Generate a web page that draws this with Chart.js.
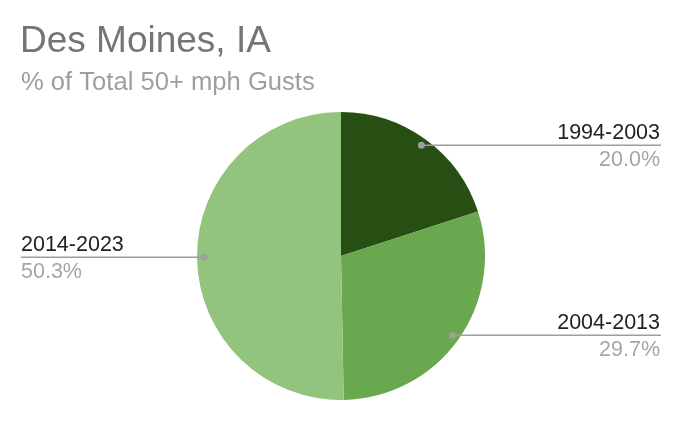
<!DOCTYPE html>
<html>
<head>
<meta charset="utf-8">
<script src="https://cdn.jsdelivr.net/npm/chart.js@4"></script>
<style>
  html, body { margin: 0; padding: 0; background: #fff; }
  #wrap { width: 682px; height: 422px; }
</style>
</head>
<body>
<div id="wrap"><canvas id="pie"></canvas></div>
<script>
// decades and their share of 50+ mph gusts
const labels = ['1994-2003', '2004-2013', '2014-2023'];
const shares = [20.0, 29.7, 50.3];
const sliceColors = ['#274e13', '#6aa84f', '#93c47d'];

const titleText = 'Des Moines, IA';
const subtitleText = '% of Total 50+ mph Gusts';
const FONT = '"Liberation Sans", Arial, sans-serif';

// titles + leader-line labels drawn on the canvas
const labelPlugin = {
  id: 'leaderLabels',
  afterDraw(chart) {
    const ctx = chart.ctx;
    ctx.save();
    ctx.textBaseline = 'alphabetic';
    ctx.textAlign = 'left';
    ctx.fillStyle = '#757575';
    ctx.font = '37px ' + FONT;
    ctx.fillText(titleText, 20, 52);
    ctx.fillStyle = '#9e9e9e';
    ctx.font = '25.6px ' + FONT;
    ctx.fillText(subtitleText, 21, 90);

    const arcs = chart.getDatasetMeta(0).data;
    arcs.forEach((arc, i) => {
      const p = arc.getProps(['x', 'y', 'startAngle', 'endAngle', 'outerRadius'], true);
      const mid = (p.startAngle + p.endAngle) / 2;
      const dx = p.x + Math.cos(mid) * p.outerRadius * 0.95;
      const dy = p.y + Math.sin(mid) * p.outerRadius * 0.95;
      const right = Math.cos(mid) > 0;
      const endX = right ? 661 : 21;

      ctx.strokeStyle = '#9e9e9e';
      ctx.lineWidth = 1.5;
      ctx.beginPath();
      ctx.moveTo(dx, dy);
      ctx.lineTo(endX, dy);
      ctx.stroke();

      ctx.fillStyle = '#9e9e9e';
      ctx.beginPath();
      ctx.arc(dx, dy, 3.5, 0, Math.PI * 2);
      ctx.fill();

      ctx.textAlign = right ? 'right' : 'left';
      ctx.font = '21.5px ' + FONT;
      ctx.fillStyle = '#222222';
      ctx.fillText(labels[i], right ? endX - 1 : endX, dy - 6);
      ctx.fillStyle = '#a5a5a5';
      ctx.fillText(shares[i].toFixed(1) + '%', right ? endX - 1 : endX, dy + 21);
    });
    ctx.restore();
  }
};

new Chart(document.getElementById('pie'), {
  type: 'pie',
  data: {
    labels: labels,
    datasets: [{
      data: shares,
      backgroundColor: sliceColors,
      borderWidth: 0
    }]
  },
  options: {
    responsive: true,
    maintainAspectRatio: false,
    animation: false,
    layout: { padding: { top: 112, bottom: 22, left: 0, right: 0 } },
    plugins: {
      legend: { display: false },
      title: { display: false },
      tooltip: { enabled: false }
    }
  },
  plugins: [labelPlugin]
});
</script>
</body>
</html>
